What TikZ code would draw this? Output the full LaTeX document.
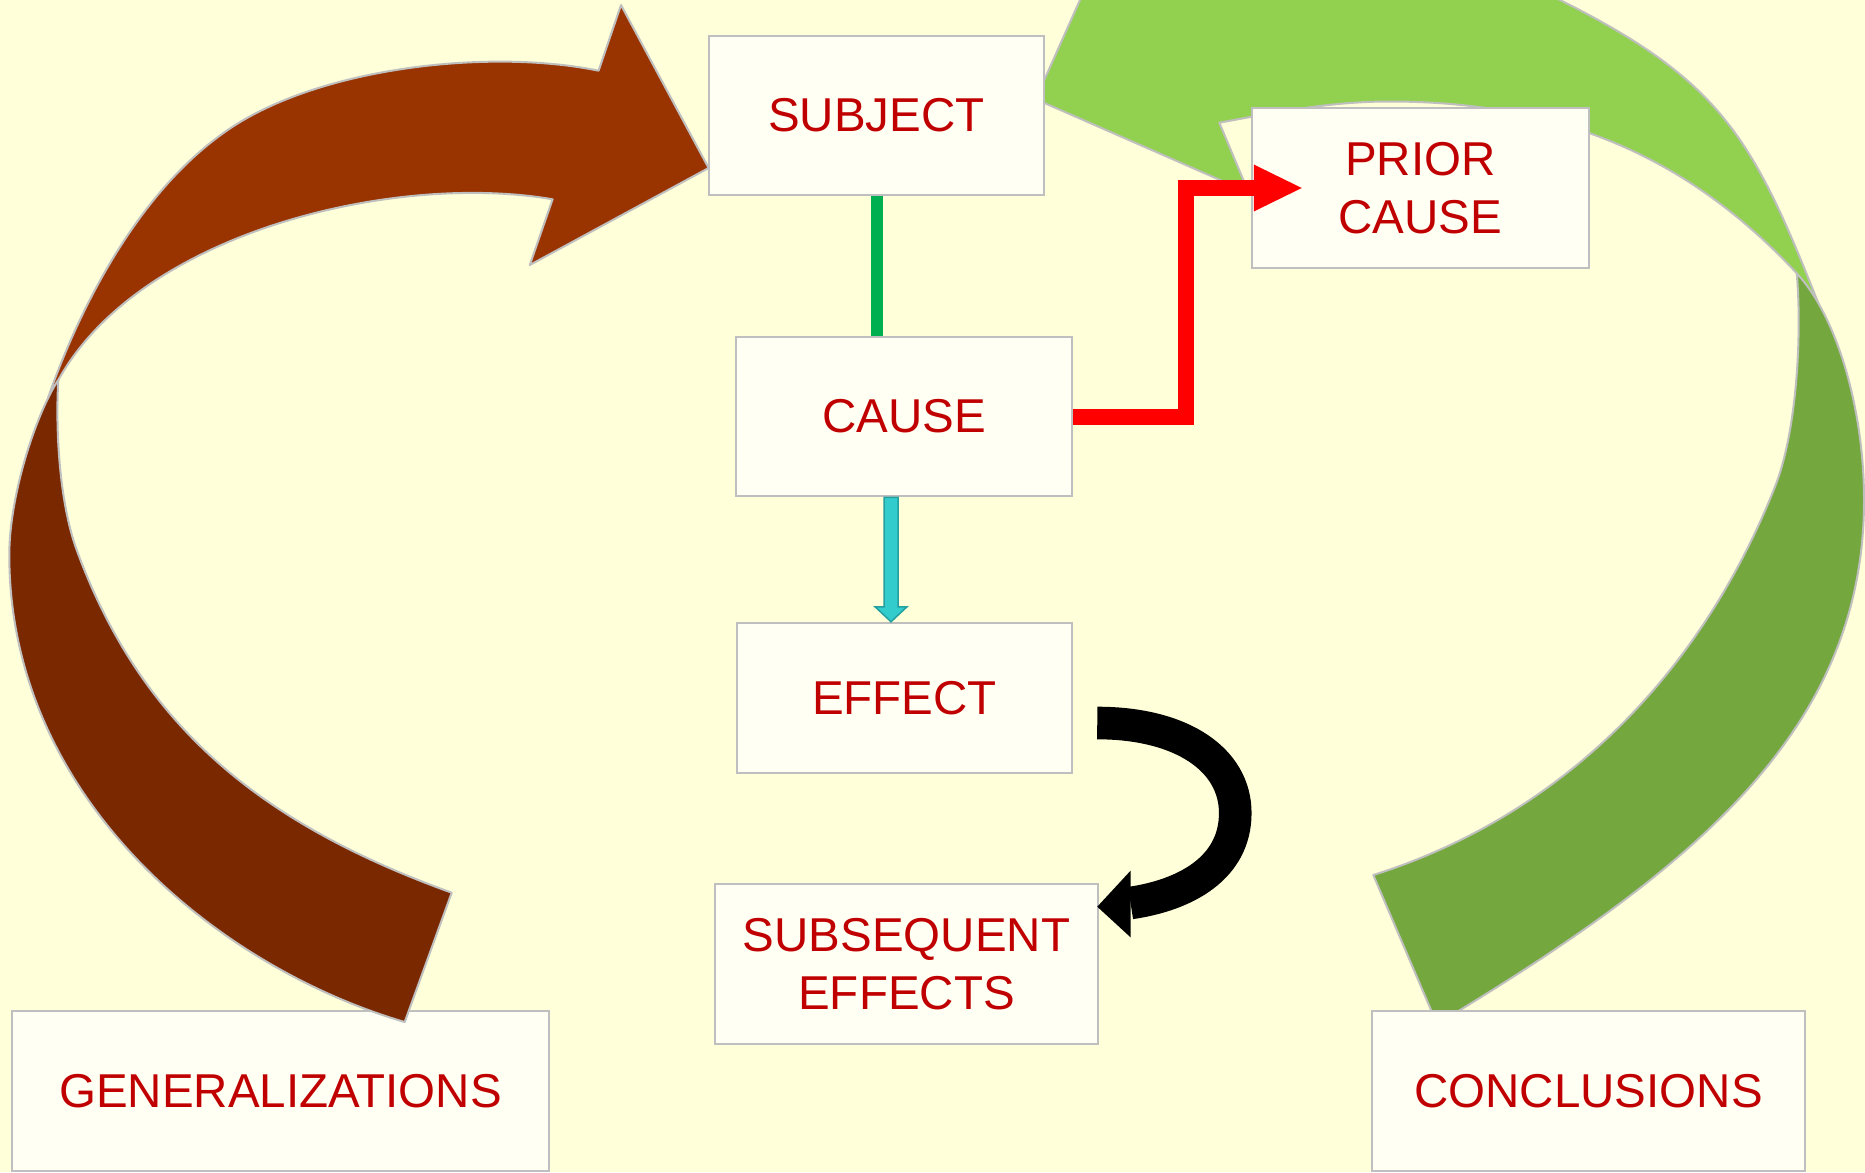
\documentclass[tikz,border=0pt]{standalone}
\usepackage{fontspec}
\setmainfont{Liberation Sans}
\usetikzlibrary{calc}
\definecolor{bg}{HTML}{FFFFD9}
\definecolor{boxfill}{HTML}{FFFFF4}
\definecolor{boxline}{HTML}{BFBFBF}
\definecolor{txt}{HTML}{C00000}
\definecolor{blight}{HTML}{993300}
\definecolor{bdark}{HTML}{7A2800}
\definecolor{glight}{HTML}{92D050}
\definecolor{gdark}{HTML}{74A73E}
\definecolor{gline}{HTML}{00B050}
\definecolor{cyanfill}{HTML}{33CCCC}
\definecolor{cyanline}{HTML}{24A0A0}
\definecolor{redc}{HTML}{FF0000}
\begin{document}
\begin{tikzpicture}[x=1pt,y=-1pt,
  box/.style={draw=boxline, line width=2.5pt, fill=boxfill, text=txt, inner sep=0pt,
    font=\fontsize{47.5}{58}\selectfont, align=center},
  outl/.style={draw=boxline, line width=2pt, line join=round},
  greenline/.style={draw=gline, line width=12pt},
  redline/.style={draw=redc, line width=16pt, line join=miter},
  blackline/.style={draw=black, line width=32.6pt, line cap=butt},
  cyanarrow/.style={fill=cyanfill, draw=cyanline, line width=1.5pt, line join=miter}]
\useasboundingbox (0,0) rectangle (1865,1172);
\clip (0,0) rectangle (1865,1172);
\fill[bg] (0,0) rectangle (1865,1172);

% green curved arrow (behind boxes)
\filldraw[outl, fill=glight] (1035.7,99.2) -- (1121,-92) -- (1175,-30)
  .. controls (1300,-55) and (1480,-40) .. (1560,0)
  .. controls (1720.9,80.5) and (1753,137.6) .. (1819,305)
  -- (1796.7,273.3)
  .. controls (1694.7,163.8) and (1570,101.5) .. (1390,101.5)
  .. controls (1330,101.5) and (1278.1,111.9) .. (1219.3,122.7)
  -- (1248.6,192.5) -- cycle;
\filldraw[outl, fill=gdark] (1796.7,273.3)
  .. controls (1837.5,317.1) and (1864,410) .. (1864,500)
  .. controls (1864,730) and (1694.1,869.2) .. (1437,1024)
  -- (1373.3,875)
  .. controls (1563.3,815) and (1701.4,672.7) .. (1775,486.7)
  .. controls (1797.1,430.9) and (1802,333) .. (1796.7,273.3) -- cycle;

% boxes
\node[box, minimum width=335pt, minimum height=159pt] (subject) at (876.5,115.5) {SUBJECT};
\node[box, minimum width=336pt, minimum height=159pt] (cause) at (904,416.5) {CAUSE};
\node[box, minimum width=335pt, minimum height=150pt] (effect) at (904.5,698) {EFFECT};
\node[box, minimum width=383pt, minimum height=160pt] (subseq) at (906.5,964) {SUBSEQUENT\\EFFECTS};
\node[box, minimum width=337pt, minimum height=160pt] (prior) at (1420.5,188) {PRIOR\\CAUSE};
\node[box, minimum width=537pt, minimum height=160pt] (gen) at (280.5,1091) {GENERALIZATIONS};
\node[box, minimum width=433pt, minimum height=160pt] (concl) at (1588.5,1091) {CONCLUSIONS};

% brown curved arrow
\filldraw[outl, fill=blight] (708.6,168) -- (621,5) -- (598.6,70.7)
  .. controls (491.9,48.7) and (324.8,66.5) .. (232.7,126.7)
  .. controls (132.3,192.3) and (73.4,324.8) .. (48,398)
  -- (58.3,380)
  .. controls (140,232) and (395,172) .. (552.6,199.3)
  -- (529.8,265) -- cycle;
\filldraw[outl, fill=bdark] (58.3,380)
  .. controls (36.3,413) and (9.3,495) .. (9.3,555)
  .. controls (9.3,800) and (220,968) .. (404.7,1022)
  -- (451.7,892.7)
  .. controls (263.7,824.7) and (142,728.4) .. (76.7,550)
  .. controls (59.5,503) and (55.3,430) .. (58.3,380) -- cycle;

% SUBJECT -- CAUSE
\draw[greenline] (subject.south) -- (subject.south |- cause.north);

% CAUSE -> EFFECT
\coordinate (cs) at ($(cause.south)+(-13,0)$);
\coordinate (ct) at ($(effect.north)+(-13.5,0)$);
\filldraw[cyanarrow] ($(cs)+(-7,0)$) -- ($(cs)+(7,0)$) -- ($(ct)+(7,-15)$) -- ($(ct)+(16,-15)$)
  -- (ct) -- ($(ct)+(-16,-15)$) -- ($(ct)+(-7,-15)$) -- cycle;

% CAUSE -> PRIOR CAUSE
\draw[redline] (cause.east) -| ($(prior.west)+(-65,0)$) -- ($(prior.west)+(4,0)$);
\fill[redc] ($(prior.west)+(3,-23.5)$) -- ($(prior.west)+(51,0)$) -- ($(prior.west)+(3,23.5)$) -- cycle;

% EFFECT -> SUBSEQUENT EFFECTS
\coordinate (bt) at ($(effect.east)+(24,25)$);
\coordinate (bm) at ($(effect.east)+(162,115)$);
\coordinate (bh) at ($(subseq.east)+(31.3,-61)$);
\coordinate (btip) at ($(subseq.east)+(-2,-57.3)$);
\draw[blackline] (bt) .. controls +(85,0) and +(0,-53) .. (bm) .. controls +(0,55) and +(55,-8) .. (bh);
\fill[black] ($(bh)+(0,-32.3)$) -- (btip) -- ($(bh)+(0,34.3)$) -- cycle;
\end{tikzpicture}
\end{document}
